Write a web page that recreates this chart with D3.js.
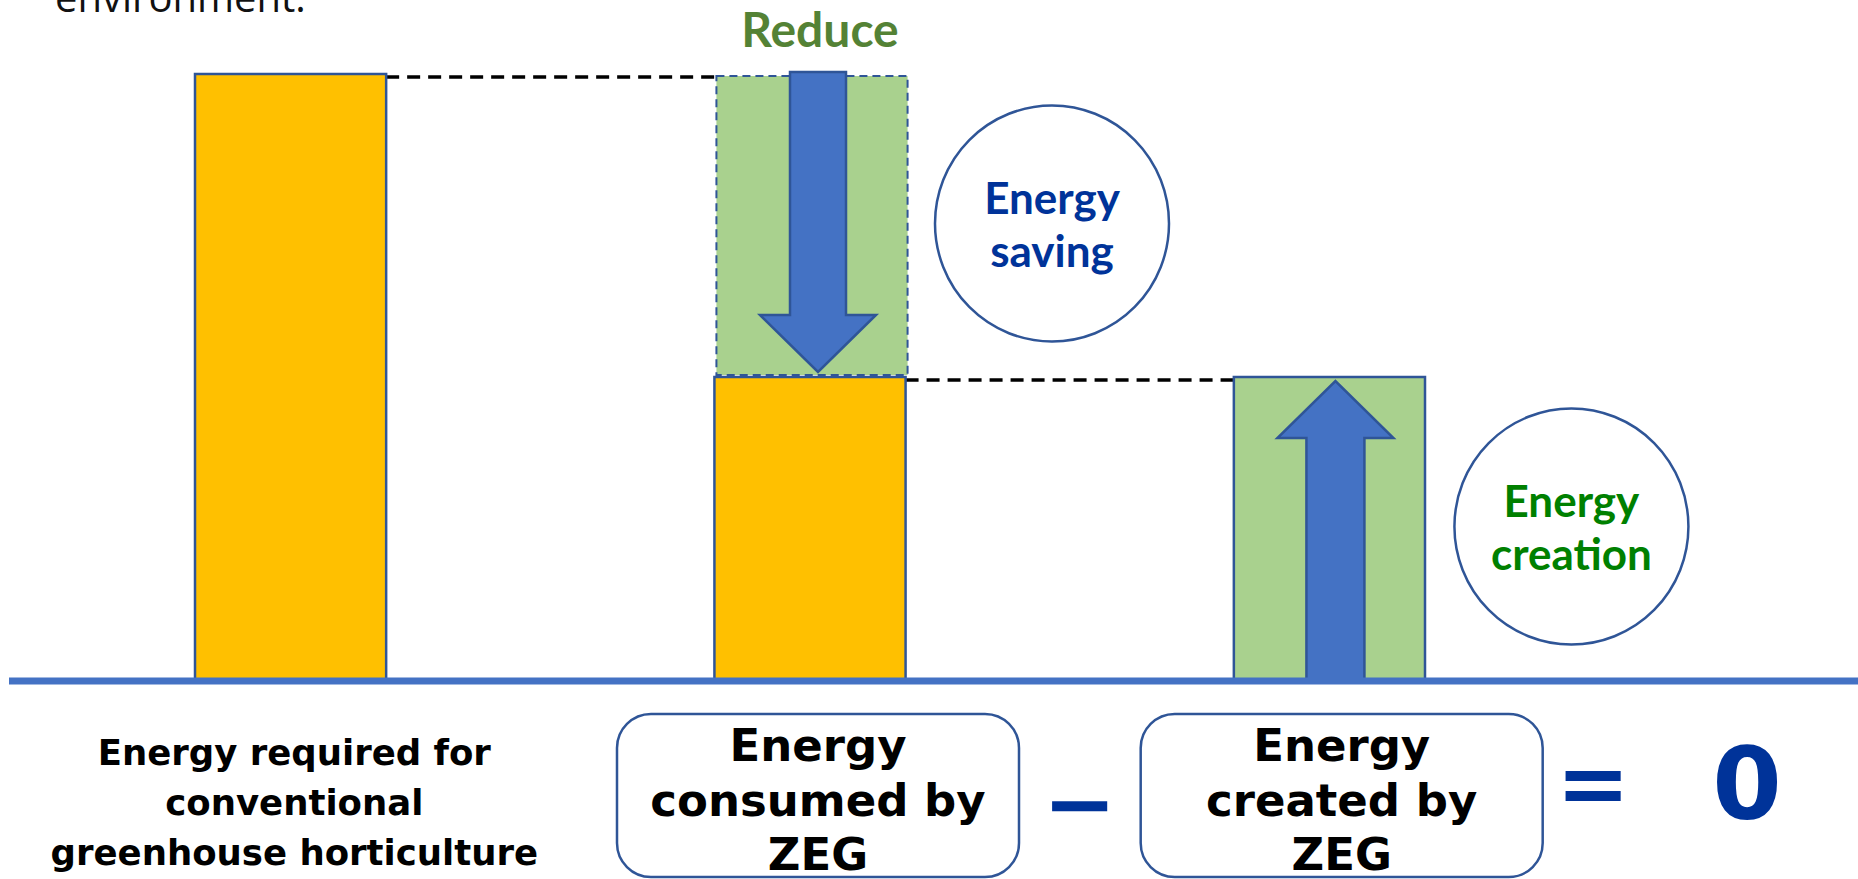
<!DOCTYPE html>
<html>
<head>
<meta charset="utf-8">
<script src="https://cdn.jsdelivr.net/npm/d3@7"></script>
<style>
  body { margin: 0; background: #fff; }
  svg { display: block; }
</style>
</head>
<body>
<svg id="chart" width="1858" height="879"></svg>
<script>
// ---- data ----
var categories = ["conventional", "consumed", "created"];
var requiredValues = [100, 50, 0];   // orange bars
var savingValues   = [0, 50, 0];     // green dashed part (energy saving)
var creationValues = [0, 0, 50];     // green solid bar (energy creation)

var bottomLabels = [
  ["Energy required for", "conventional", "greenhouse horticulture"],
  ["Energy", "consumed by", "ZEG"],
  ["Energy", "created by", "ZEG"]
];
var circleLabels = [["Energy", "saving"], ["Energy", "creation"]];
var circleColors = ["#003399", "#008000"];
var circleCats = ["consumed", "created"];

var svg = d3.select("#chart");
var W = 1858, H = 879;

// ---- scales ----
var x = d3.scaleBand().domain(categories).range([195, 1425]).paddingInner(0.632).paddingOuter(0);
var labelX = d3.scaleBand().domain(categories).range([94, 1542]).paddingInner(0.235).paddingOuter(0);
var y = d3.scaleLinear().domain([0, 100]).range([680, 74]);

var blueEdge = "#2F5597";

// top-left sentence, cut off by the frame
svg.append("text")
  .attr("x", 55).attr("y", 12)
  .style("font-family", "'Open Sans'")
  .style("font-size", "40px")
  .attr("fill", "#111")
  .text("environment.");

// ---- dashed connectors ----
var connectors = [
  {from: "conventional", to: "consumed", v: 100},
  {from: "consumed", to: "created", v: 50}
];
svg.selectAll(".conn").data(connectors).enter().append("line")
  .attr("class", "conn")
  .attr("x1", function(d) { return x(d.from) + x.bandwidth(); })
  .attr("x2", function(d) { return x(d.to); })
  .attr("y1", function(d) { return y(d.v) + 3; })
  .attr("y2", function(d) { return y(d.v) + 3; })
  .attr("stroke", "#000")
  .attr("stroke-width", 3.5)
  .attr("stroke-dasharray", "13 8");

// ---- orange bars ----
svg.selectAll(".req").data(categories.filter(function(c, i) { return requiredValues[i] > 0; }))
  .enter().append("rect")
  .attr("class", "req")
  .attr("x", function(d) { return x(d); })
  .attr("width", x.bandwidth())
  .attr("y", function(d) { return y(requiredValues[categories.indexOf(d)]); })
  .attr("height", function(d) { return y(0) - y(requiredValues[categories.indexOf(d)]); })
  .attr("fill", "#FFC000")
  .attr("stroke", blueEdge)
  .attr("stroke-width", 2.5);

// ---- saving (dashed green, stacked on orange) ----
svg.selectAll(".sav").data(categories.filter(function(c, i) { return savingValues[i] > 0; }))
  .enter().append("rect")
  .attr("class", "sav")
  .attr("x", function(d) { return x(d) + 2; })
  .attr("width", x.bandwidth())
  .attr("y", function(d) { var i = categories.indexOf(d); return y(requiredValues[i] + savingValues[i]) + 2; })
  .attr("height", function(d) { var i = categories.indexOf(d); return y(requiredValues[i]) - y(requiredValues[i] + savingValues[i]) - 4; })
  .attr("fill", "#A9D18E")
  .attr("stroke", blueEdge)
  .attr("stroke-width", 2)
  .attr("stroke-dasharray", "8 5");

// ---- creation (solid green) ----
svg.selectAll(".cre").data(categories.filter(function(c, i) { return creationValues[i] > 0; }))
  .enter().append("rect")
  .attr("class", "cre")
  .attr("x", function(d) { return x(d); })
  .attr("width", x.bandwidth())
  .attr("y", function(d) { return y(creationValues[categories.indexOf(d)]); })
  .attr("height", function(d) { return y(0) - y(creationValues[categories.indexOf(d)]); })
  .attr("fill", "#A9D18E")
  .attr("stroke", blueEdge)
  .attr("stroke-width", 2.5);

// ---- arrows ----
function arrowPoints(cx, yStart, yTip, shaftHalf, headHalf, headLen) {
  var dir = yTip > yStart ? 1 : -1;
  var yHead = yTip - dir * headLen;
  return [
    [cx - shaftHalf, yStart], [cx + shaftHalf, yStart],
    [cx + shaftHalf, yHead], [cx + headHalf, yHead],
    [cx, yTip],
    [cx - headHalf, yHead], [cx - shaftHalf, yHead]
  ];
}
var arrows = [];
categories.forEach(function(c, i) {
  var cx = x(c) + x.bandwidth() / 2 + 6;
  if (savingValues[i] > 0) {
    arrows.push(arrowPoints(cx + 2, y(requiredValues[i] + savingValues[i]) - 2, y(requiredValues[i]) - 5, 28, 58, 57));
  }
  if (creationValues[i] > 0) {
    arrows.push(arrowPoints(cx, y(0), y(creationValues[i]) + 4, 29, 58, 57));
  }
});
svg.selectAll(".arrow").data(arrows).enter().append("polygon")
  .attr("class", "arrow")
  .attr("points", function(d) { return d.map(function(p) { return p.join(","); }).join(" "); })
  .attr("fill", "#4472C4")
  .attr("stroke", blueEdge)
  .attr("stroke-width", 2.5)
  .attr("stroke-linejoin", "miter");

// ---- baseline ----
svg.append("line")
  .attr("x1", 9).attr("x2", W)
  .attr("y1", y(0) + 1).attr("y2", y(0) + 1)
  .attr("stroke", "#4472C4")
  .attr("stroke-width", 7);

// ---- "Reduce" ----
svg.append("text")
  .attr("x", x("consumed") + x.bandwidth() / 2 + 10)
  .attr("y", 47)
  .attr("text-anchor", "middle")
  .style("font-family", "Lato")
  .style("font-weight", "bold")
  .style("font-size", "48px")
  .attr("fill", "#548235")
  .text("Reduce");

// ---- circles ----
circleCats.forEach(function(c, k) {
  var i = categories.indexOf(c);
  var top = savingValues[i] > 0 ? requiredValues[i] + savingValues[i] : creationValues[i];
  var bot = savingValues[i] > 0 ? requiredValues[i] : 0;
  var cx = x(c) + x.bandwidth() / 2 + 242;
  var cy = (y(top) + y(bot)) / 2 - 2;
  var g = svg.append("g");
  g.append("ellipse")
    .attr("cx", cx).attr("cy", cy)
    .attr("rx", 117).attr("ry", 118)
    .attr("fill", "#fff")
    .attr("stroke", blueEdge)
    .attr("stroke-width", 2.5);
  g.selectAll("text").data(circleLabels[k]).enter().append("text")
    .attr("x", cx)
    .attr("y", function(d, j) { return cy - 10 + j * 53; })
    .attr("text-anchor", "middle")
    .style("font-family", "Lato")
    .style("font-weight", "bold")
    .style("font-size", "44px")
    .attr("fill", circleColors[k])
    .text(function(d) { return d; });
});

// ---- bottom labels ----
categories.forEach(function(c, i) {
  var cx = labelX(c) + labelX.bandwidth() / 2;
  var boxed = i > 0;
  var g = svg.append("g");
  if (boxed) {
    g.append("rect")
      .attr("x", cx - 201).attr("y", 714)
      .attr("width", 402).attr("height", 163)
      .attr("rx", 34).attr("ry", 34)
      .attr("fill", "#fff")
      .attr("stroke", blueEdge)
      .attr("stroke-width", 2.5);
  }
  g.selectAll("text").data(bottomLabels[i]).enter().append("text")
    .attr("x", cx)
    .attr("y", function(d, j) { return boxed ? 761 + j * 54.5 : 765 + j * 50; })
    .attr("text-anchor", "middle")
    .style("font-family", "'DejaVu Sans'")
    .style("font-weight", "bold")
    .style("font-size", boxed ? "45px" : "35.5px")
    .attr("fill", "#000")
    .text(function(d) { return d; });
});

// ---- operators and result ----
var ops = [
  {t: "\u2212", x: (labelX("consumed") + labelX.bandwidth() + labelX("created")) / 2, y: 834, size: 88},
  {t: "=", x: labelX("created") + labelX.bandwidth() + 51, y: 814, size: 88},
  {t: "0", x: 1747, y: 819, size: 100}
];
svg.selectAll(".op").data(ops).enter().append("text")
  .attr("class", "op")
  .attr("x", function(d) { return d.x; })
  .attr("y", function(d) { return d.y; })
  .attr("text-anchor", "middle")
  .style("font-family", "'DejaVu Sans'")
  .style("font-weight", "bold")
  .style("font-size", function(d) { return d.size + "px"; })
  .attr("fill", "#003399")
  .text(function(d) { return d.t; });
</script>
</body>
</html>
